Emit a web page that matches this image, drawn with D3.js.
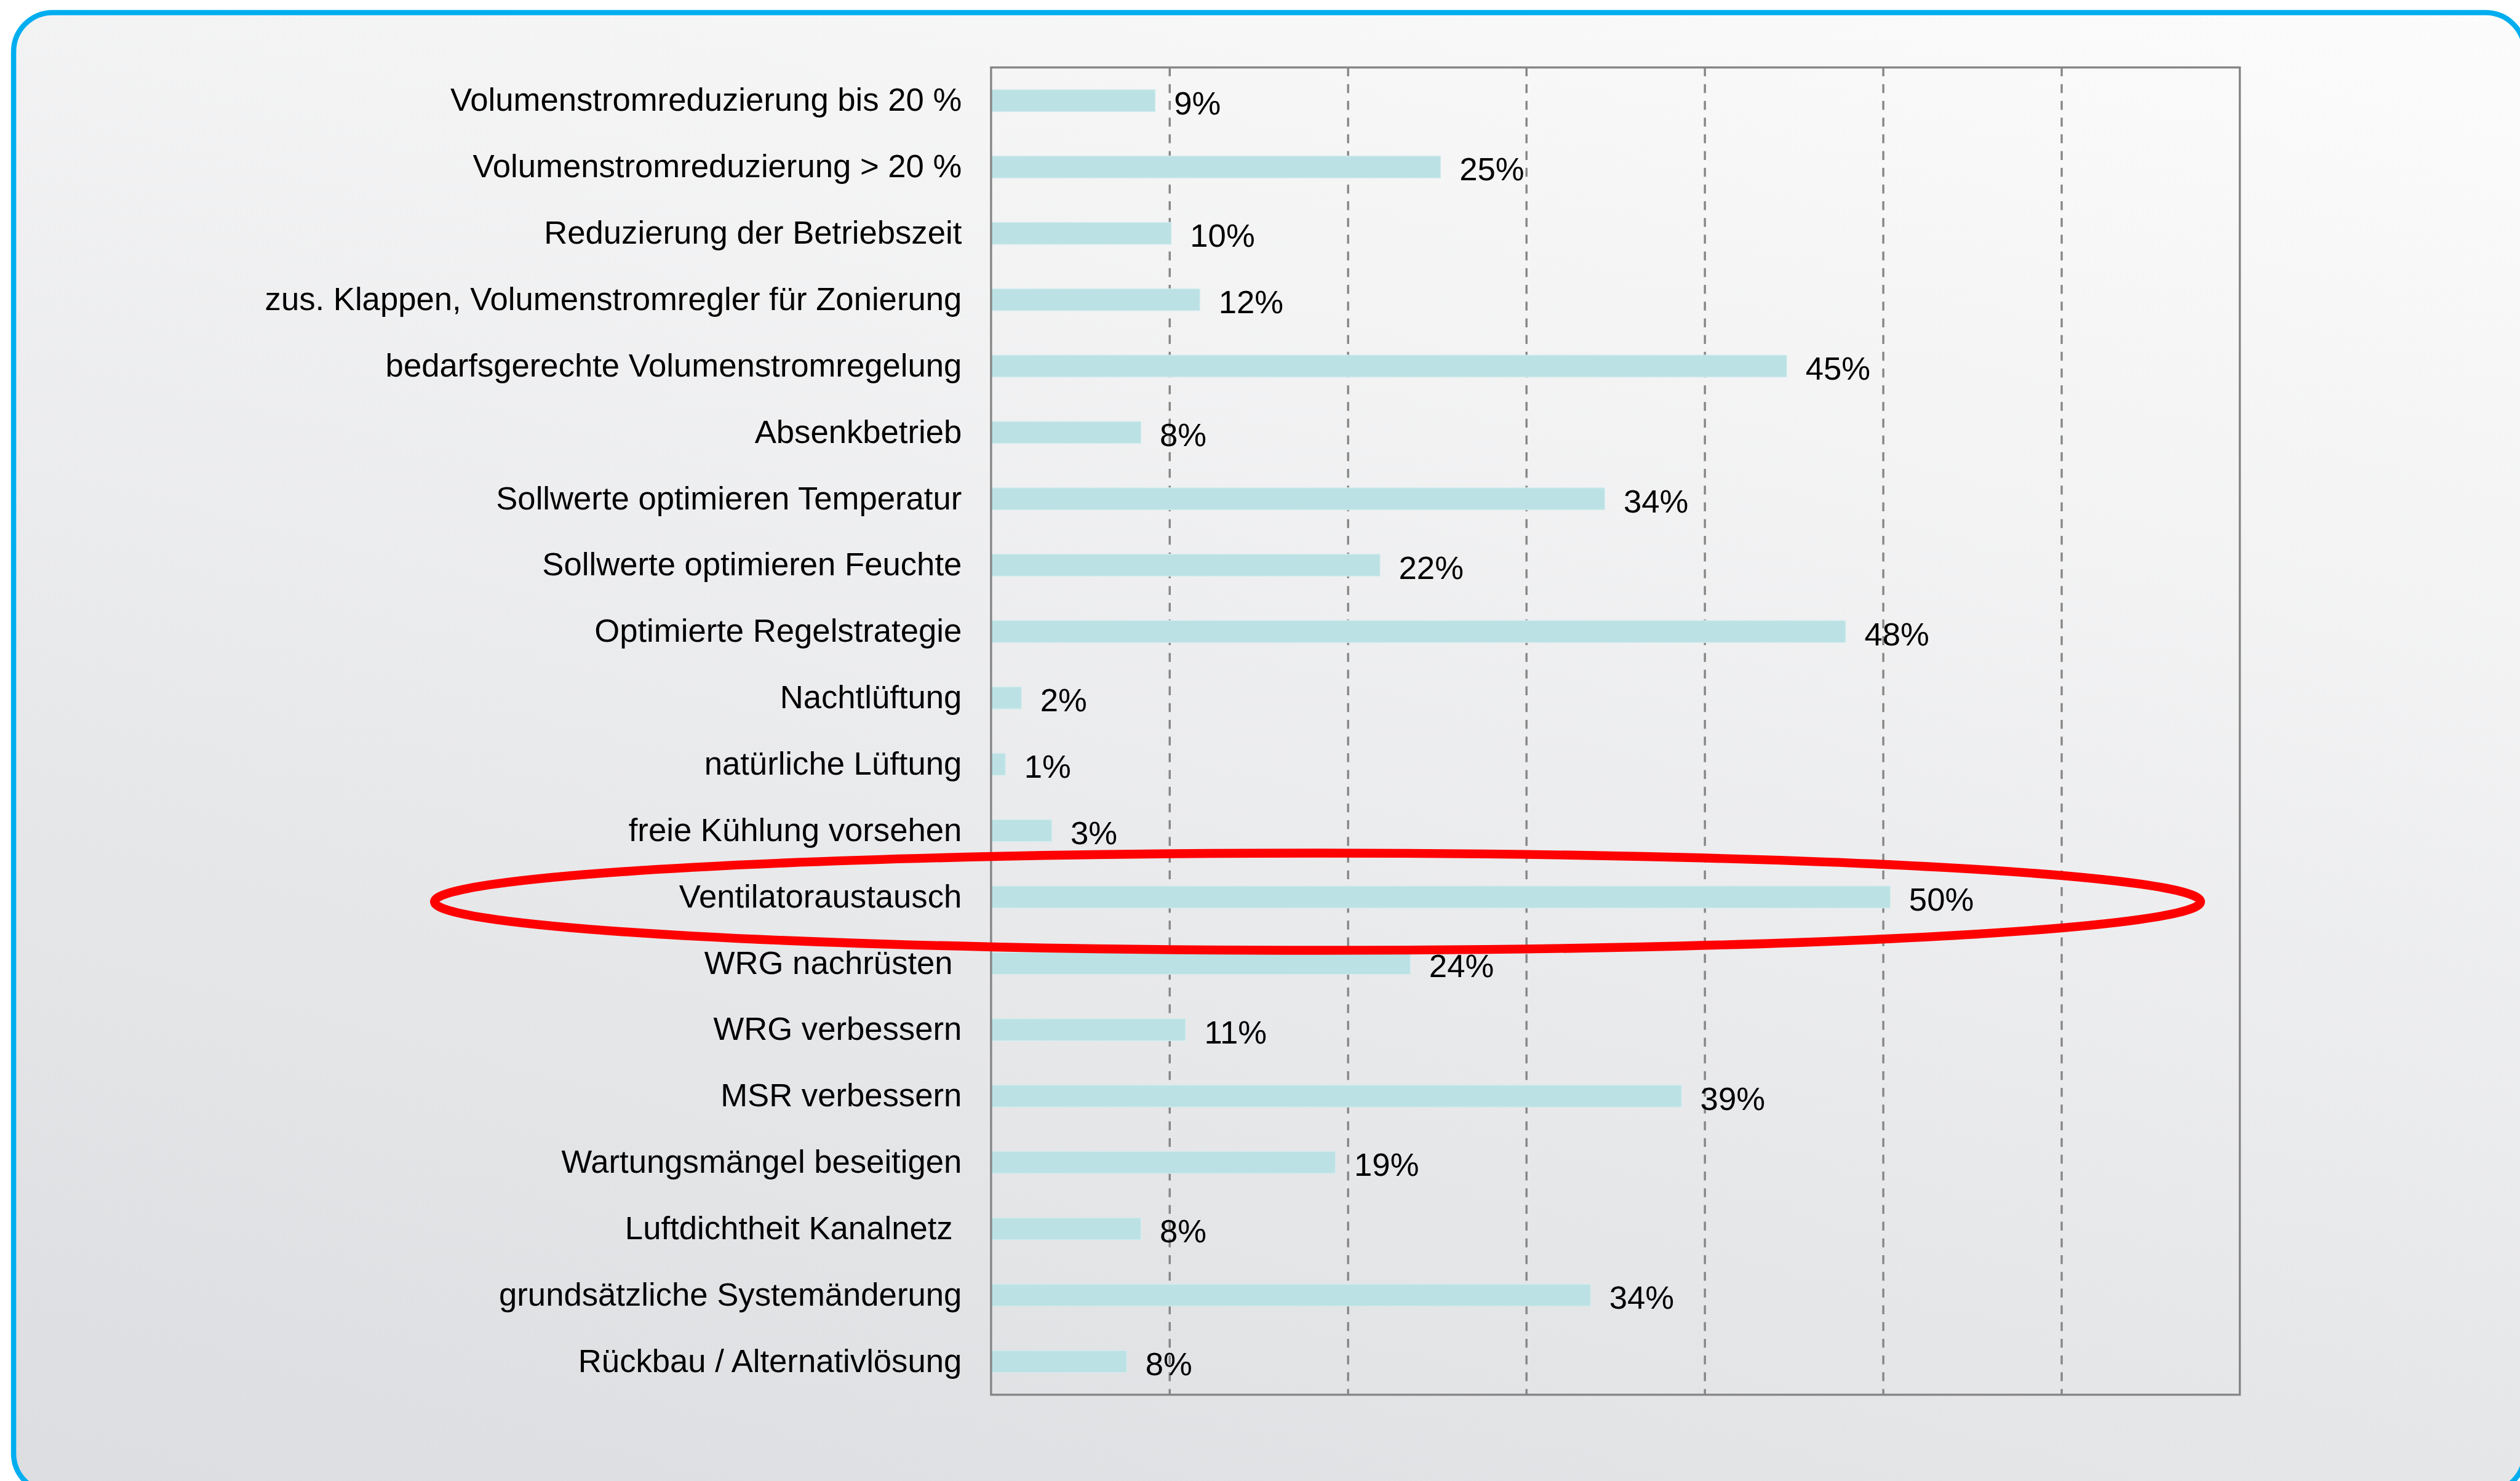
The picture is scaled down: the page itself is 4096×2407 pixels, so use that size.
<!DOCTYPE html>
<html>
<head>
<meta charset="utf-8">
<script src="https://cdn.jsdelivr.net/npm/d3@7"></script>
<style>
  body { margin: 0; background: #fff; overflow: hidden; }
  svg { display: block; }
  text { font-family: "Liberation Sans", Arial, sans-serif; fill: #000; white-space: pre; }
</style>
</head>
<body>
<div id="chart"></div>
<script>
// Measures, top to bottom (trailing spaces are in the original labels)
var categories = [
  "Volumenstromreduzierung bis 20 %",
  "Volumenstromreduzierung > 20 %",
  "Reduzierung der Betriebszeit",
  "zus. Klappen, Volumenstromregler für Zonierung",
  "bedarfsgerechte Volumenstromregelung",
  "Absenkbetrieb",
  "Sollwerte optimieren Temperatur",
  "Sollwerte optimieren Feuchte",
  "Optimierte Regelstrategie",
  "Nachtlüftung",
  "natürliche Lüftung",
  "freie Kühlung vorsehen",
  "Ventilatoraustausch",
  "WRG nachrüsten ",
  "WRG verbessern",
  "MSR verbessern",
  "Wartungsmängel beseitigen",
  "Luftdichtheit Kanalnetz ",
  "grundsätzliche Systemänderung",
  "Rückbau / Alternativlösung"
];

// share in percent (bar lengths)
var values = [9.2, 25.2, 10.1, 11.7, 44.6, 8.4, 34.4, 21.8, 47.9, 1.7,
              0.8, 3.4, 50.4, 23.5, 10.9, 38.7, 19.3, 8.4, 33.6, 7.6];

var xMax = 70;
var gridTicks = [10, 20, 30, 40, 50, 60];

// the highlighted row and how far the ring reaches (in % of the x scale)
var highlight = "Ventilatoraustausch";
var ringFrom = -31.2, ringTo = 67.8;

// drawing is done in the reference's pixel space and scaled by the viewBox
var W = 4821, H = 2833;
var plot = {left: 1896, right: 4285, top: 129, bottom: 2668};
var fontSize = 62;

var svg = d3.select("#chart")
  .append("svg")
  .attr("width", 4096)
  .attr("height", 2407)
  .attr("viewBox", "0 0 " + W + " " + H);

// background gradient of the panel
var grad = svg.append("defs")
  .append("linearGradient")
  .attr("id", "panel-bg")
  .attr("x1", 1).attr("y1", 0)
  .attr("x2", 0.483).attr("y2", 1.207);
grad.append("stop").attr("offset", 0).attr("stop-color", "#fcfcfc");
grad.append("stop").attr("offset", 1).attr("stop-color", "#dcdde0");

// panel with the blue rounded frame
svg.append("rect")
  .attr("x", 26)
  .attr("y", 24)
  .attr("width", 4804)
  .attr("height", 2831)
  .attr("rx", 75)
  .attr("ry", 75)
  .style("fill", "url(#panel-bg)")
  .style("stroke", "#00aeef")
  .style("stroke-width", 10);

// scales
var x = d3.scaleLinear()
  .domain([0, xMax])
  .range([plot.left, plot.right]);

var y = d3.scaleBand()
  .domain(categories)
  .range([plot.top, plot.bottom])
  .paddingInner(0.67)
  .paddingOuter(0.335);

var data = categories.map(function(c, i) {
  return {cat: c, value: values[i]};
});

// dashed vertical gridlines
var grid = svg.append("g")
  .attr("class", "grid")
  .attr("transform", "translate(0," + plot.top + ")")
  .call(d3.axisTop(x)
    .tickValues(gridTicks)
    .tickSize(-(plot.bottom - plot.top))
    .tickFormat(""));
grid.select(".domain").remove();
grid.selectAll("line")
  .style("stroke", "#868686")
  .style("stroke-width", 4)
  .style("stroke-dasharray", "17,15");

// bars
svg.append("g")
  .selectAll("rect")
  .data(data)
  .enter().append("rect")
  .attr("x", x(0))
  .attr("y", function(d) { return y(d.cat); })
  .attr("width", function(d) { return x(d.value) - x(0); })
  .attr("height", y.bandwidth())
  .style("fill", "#bbe1e4")
  .style("stroke", "#d3ecee")
  .style("stroke-width", 1.5);

// plot box
svg.append("rect")
  .attr("x", x(0))
  .attr("y", plot.top)
  .attr("width", x(xMax) - x(0))
  .attr("height", plot.bottom - plot.top)
  .style("fill", "none")
  .style("stroke", "#868686")
  .style("stroke-width", 4);

// category labels
var yAxis = svg.append("g")
  .attr("transform", "translate(" + plot.left + ",0)")
  .call(d3.axisLeft(y).tickSize(0).tickPadding(56));
yAxis.select(".domain").remove();
yAxis.selectAll("text")
  .attr("dy", "0.32em")
  .style("font-family", '"Liberation Sans", Arial, sans-serif')
  .style("font-size", fontSize + "px")
  .style("fill", "#000");

// value labels
svg.append("g")
  .selectAll("text")
  .data(data)
  .enter().append("text")
  .attr("x", function(d) { return x(d.value) + 36; })
  .attr("y", function(d) { return y(d.cat) + y.bandwidth() / 2 + 26; })
  .style("font-size", fontSize + "px")
  .text(function(d) { return Math.round(d.value) + "%"; });

// red ring around the highlighted row
svg.append("ellipse")
  .attr("cx", (x(ringFrom) + x(ringTo)) / 2)
  .attr("cy", y(highlight) + y.bandwidth() / 2 + 9)
  .attr("rx", (x(ringTo) - x(ringFrom)) / 2)
  .attr("ry", 93)
  .style("fill", "none")
  .style("stroke", "#ff0000")
  .style("stroke-width", 17);
</script>
</body>
</html>
